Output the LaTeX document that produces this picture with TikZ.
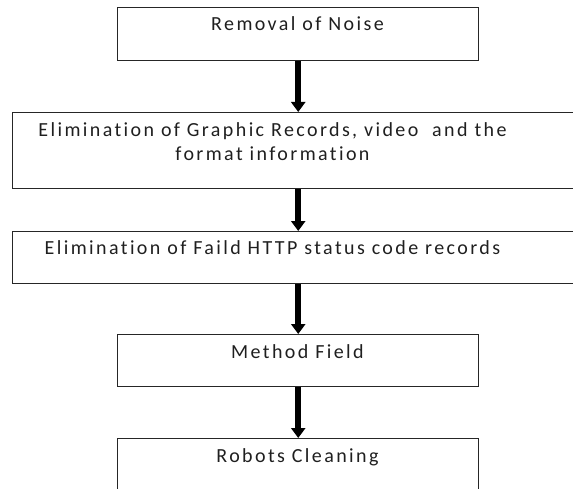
\documentclass[tikz,border=0pt]{standalone}
\usepackage{fontspec}
\setmainfont{Carlito}[LetterSpace=12, Ligatures=NoCommon]
\usetikzlibrary{arrows.meta}
\begin{document}
\begin{tikzpicture}[x=0.75pt, y=-0.75pt,
  stepbox/.style={draw=black!85, line width=1.1pt, rectangle, inner sep=0pt,
    anchor=north west},
  steptext/.style={anchor=base, inner sep=0pt, align=center, text=black!88,
    font=\fontsize{15pt}{18pt}\selectfont},
  flow/.style={draw=black, line width=4.5pt,
    -{Triangle[width=10.5pt, length=7.5pt]}}]
  \useasboundingbox (0,0) rectangle (573,488);
  \clip (0,0) rectangle (573,488);

  % process boxes (px coordinates, 1px = 0.75pt)
  \node[stepbox, minimum width=361*0.75pt, minimum height=53*0.75pt] (b1) at (117,7) {};
  \node[stepbox, minimum width=570*0.75pt, minimum height=76*0.75pt] (b2) at (12,112) {};
  \node[stepbox, minimum width=570*0.75pt, minimum height=52*0.75pt] (b3) at (12,231) {};
  \node[stepbox, minimum width=361*0.75pt, minimum height=52*0.75pt] (b4) at (117,334) {};
  \node[stepbox, minimum width=361*0.75pt, minimum height=70*0.75pt] (b5) at (117,438) {};

  % captions (base anchor: last baseline of the block)
  \node[steptext] (t1) at (297.5,31) {Removal of Noise};
  \node[steptext] (t2) at (272.5,161) {Elimination of Graphic Records, video\ \ and the\\format information};
  \node[steptext] (t3) at (272.5,254) {Elimination of Faild HTTP status code records};
  \node[steptext] (t4) at (297.5,358) {Method Field};
  \node[steptext] (t5) at (297.5,462) {Robots Cleaning};

  % connectors
  \draw[flow] (b1.south) -- (b1.south |- b2.north);
  \draw[flow] (b2.south -| b1.south) -- (b3.north -| b1.south);
  \draw[flow] (b3.south -| b4.north) -- (b4.north);
  \draw[flow] (b4.south) -- (b5.north);
\end{tikzpicture}
\end{document}
